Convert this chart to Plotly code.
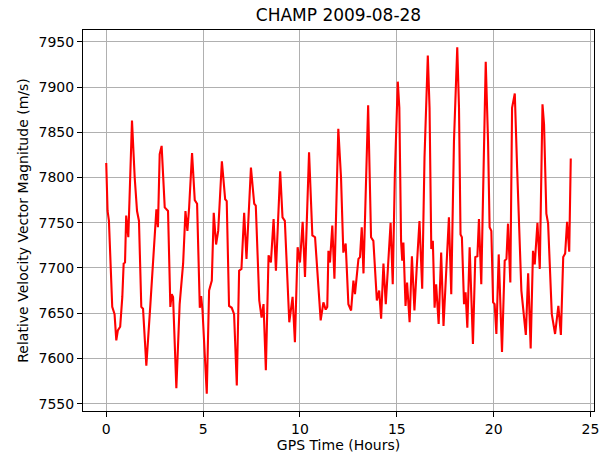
import plotly.graph_objects as go

title_text = "CHAMP 2009-08-28"
x_label = "GPS Time (Hours)"
y_label = "Relative Velocity Vector Magnitude (m/s)"

gps_hours = [
    0, 0.07, 0.14, 0.31, 0.43, 0.52, 0.6, 0.72, 0.83, 0.9, 0.97, 1.03, 1.14, 1.33, 1.47,
    1.59, 1.69, 1.81, 1.9, 2.07, 2.28, 2.5, 2.59, 2.67, 2.76, 2.86, 3.02, 3.19, 3.31, 3.38,
    3.45, 3.62, 3.79, 3.97, 4.09, 4.19, 4.28, 4.43, 4.57, 4.69, 4.83, 4.9, 4.97, 5.19, 5.31,
    5.45, 5.55, 5.67, 5.78, 5.97, 6.14, 6.22, 6.34, 6.48, 6.6, 6.74, 6.86, 6.98, 7.12, 7.24,
    7.47, 7.64, 7.72, 7.9, 8.02, 8.12, 8.24, 8.38, 8.5, 8.64, 8.76, 8.98, 9.1, 9.22, 9.45,
    9.62, 9.74, 9.88, 10.0, 10.14, 10.26, 10.47, 10.64, 10.78, 11.07, 11.21, 11.33, 11.41, 11.47, 11.55,
    11.67, 11.78, 11.98, 12.12, 12.24, 12.36, 12.5, 12.64, 12.76, 12.84, 13.02, 13.1, 13.19, 13.28, 13.52,
    13.67, 13.79, 13.97, 14.09, 14.19, 14.31, 14.43, 14.55, 14.68, 14.79, 14.9, 15.05, 15.13, 15.22, 15.28,
    15.34, 15.45, 15.53, 15.66, 15.78, 15.91, 16.03, 16.17, 16.31, 16.43, 16.6, 16.69, 16.78, 16.86, 16.95,
    17.03, 17.16, 17.29, 17.41, 17.55, 17.69, 17.81, 17.95, 18.12, 18.21, 18.29, 18.36, 18.47, 18.55, 18.64,
    18.76, 18.93, 19.05, 19.16, 19.24, 19.36, 19.45, 19.59, 19.71, 19.79, 19.88, 19.97, 20.05, 20.14, 20.26,
    20.34, 20.43, 20.57, 20.66, 20.74, 20.79, 20.86, 20.95, 21.09, 21.21, 21.31, 21.43, 21.66, 21.78, 21.91,
    22.03, 22.12, 22.26, 22.38, 22.52, 22.6, 22.72, 22.81, 23.0, 23.17, 23.34, 23.47, 23.59, 23.69, 23.79,
    23.9, 23.98,
]

velocity = [
    7816, 7763, 7752, 7657, 7649, 7620, 7631, 7635, 7668, 7705, 7706, 7758, 7734, 7863, 7800,
    7763, 7752, 7657, 7655, 7592, 7660, 7727, 7765, 7745, 7826, 7835, 7767, 7763, 7657, 7671,
    7668, 7567, 7660, 7705, 7763, 7741, 7767, 7827, 7775, 7771, 7656, 7669, 7653, 7561, 7675,
    7686, 7761, 7726, 7741, 7818, 7776, 7774, 7658, 7656, 7649, 7570, 7697, 7699, 7761, 7710,
    7811, 7771, 7769, 7664, 7645, 7660, 7587, 7714, 7706, 7754, 7697, 7807, 7756, 7752, 7640,
    7668, 7618, 7723, 7706, 7751, 7690, 7828, 7736, 7734, 7642, 7662, 7654, 7657, 7719, 7706,
    7747, 7688, 7854, 7800, 7717, 7727, 7660, 7653, 7686, 7671, 7710, 7712, 7745, 7694, 7880,
    7734, 7730, 7664, 7675, 7644, 7705, 7660, 7700, 7750, 7682, 7804, 7906, 7877, 7730, 7708,
    7728, 7658, 7684, 7640, 7713, 7653, 7701, 7752, 7677, 7822, 7935, 7877, 7721, 7730, 7656,
    7682, 7638, 7717, 7636, 7701, 7756, 7671, 7840, 7944, 7877, 7737, 7734, 7660, 7673, 7634,
    7723, 7616, 7712, 7713, 7754, 7682, 7786, 7928, 7840, 7745, 7741, 7662, 7660, 7627, 7715,
    7664, 7607, 7708, 7710, 7749, 7719, 7684, 7877, 7893, 7811, 7749, 7675, 7626, 7694, 7611,
    7719, 7704, 7750, 7699, 7881, 7859, 7760, 7749, 7649, 7627, 7658, 7626, 7712, 7716, 7751,
    7718, 7821,
]

x_ticks = [0, 5, 10, 15, 20, 25]
y_ticks = [7550, 7600, 7650, 7700, 7750, 7800, 7850, 7900, 7950]

fig = go.Figure()
fig.add_trace(go.Scatter(
    x=gps_hours, y=velocity, mode="lines",
    line=dict(color="#ff0000", width=2.1),
    showlegend=False,
))

xmin, xmax = min(gps_hours), max(gps_hours)
ymin, ymax = min(velocity), max(velocity)
xpad = 0.05 * (xmax - xmin)
ypad = 0.05 * (ymax - ymin)

font = "DejaVu Sans, sans-serif"
axis_common = dict(
    showline=True, linecolor="black", linewidth=1, mirror=True,
    ticks="outside", ticklen=5, tickwidth=1, tickcolor="black",
    showgrid=True, gridcolor="#b0b0b0", gridwidth=1,
    zeroline=False, automargin=False,
    tickfont=dict(family=font, size=14, color="black"),
)

fig.update_layout(
    width=611, height=459,
    paper_bgcolor="white", plot_bgcolor="white",
    margin=dict(l=83, r=17, t=30, b=48, autoexpand=False),
    title=dict(text=title_text, x=0.554, xanchor="center", y=1 - 15 / 459,
               yanchor="middle", yref="container",
               font=dict(family=font, size=17, color="black")),
    xaxis=dict(range=[xmin - xpad, xmax + xpad], tickvals=x_ticks,
               title=dict(text=x_label, standoff=4,
                          font=dict(family=font, size=14, color="black")),
               **axis_common),
    yaxis=dict(range=[ymin - ypad, ymax + ypad], tickvals=y_ticks,
               title=dict(text=y_label, standoff=6,
                          font=dict(family=font, size=14, color="black")),
               **axis_common),
)

fig.write_html(
    "out.html",
    config={"displayModeBar": False},
    post_script="document.body.style.margin='0';document.body.style.overflow='hidden';",
)
